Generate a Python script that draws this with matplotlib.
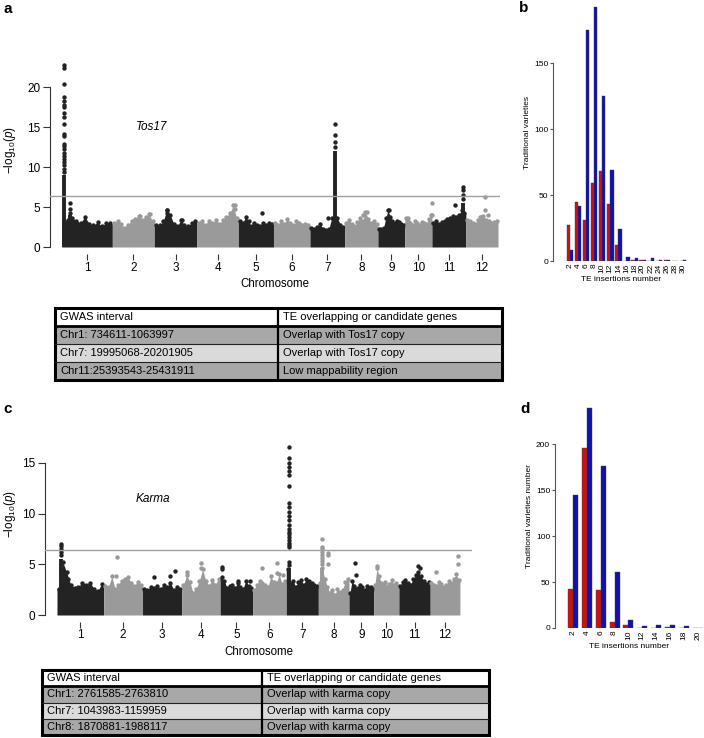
import numpy as np
import matplotlib.pyplot as plt
from matplotlib.patches import Rectangle

plt.rcParams['font.family'] = ['Liberation Sans', 'DejaVu Sans']
plt.rcParams['mathtext.fontset'] = 'custom'
plt.rcParams['mathtext.rm'] = 'Liberation Sans'
plt.rcParams['mathtext.it'] = 'Liberation Sans:italic'

# rice chromosome lengths (Mb)
chrom_len = [43.3, 35.9, 36.4, 35.5, 30.0, 31.2, 29.7, 28.4, 23.0, 23.2, 29.0, 27.5]
chrom_names = [str(i) for i in range(1, 13)]

# Tos17 GWAS: upper edge of the dense SNP cloud along each chromosome
tos_env = [
    [3.2, 3.4, 3.6, 3.3, 3.0, 3.8, 2.9, 2.7, 3.1, 2.6, 3.0, 3.0],
    [3.0, 3.2, 2.9, 2.4, 2.8, 3.3, 3.5, 3.9, 3.4, 3.8, 4.1, 3.2],
    [2.8, 2.7, 3.2, 4.6, 4.0, 2.9, 2.6, 3.4, 2.7, 2.6, 3.0, 3.2],
    [3.0, 3.3, 2.8, 3.3, 3.0, 3.4, 2.9, 3.4, 3.8, 4.2, 5.2, 3.6],
    [3.3, 3.0, 3.8, 3.2, 2.6, 3.0, 2.8, 2.6, 3.0, 2.8, 3.0, 2.9],
    [3.0, 2.8, 3.3, 2.9, 3.5, 3.0, 2.7, 3.2, 3.0, 2.8, 2.9, 2.7],
    [2.4, 2.3, 2.5, 2.9, 2.3, 2.1, 2.2, 3.6, 3.2, 3.6, 2.8, 2.5],
    [3.0, 3.4, 2.9, 2.6, 3.1, 3.6, 3.3, 4.4, 3.5, 3.0, 3.2, 2.9],
    [2.3, 2.3, 2.4, 3.6, 4.6, 3.8, 3.3, 3.0, 3.2, 3.1, 2.9, 2.8],
    [3.6, 3.2, 3.0, 2.8, 3.2, 3.0, 2.7, 3.1, 3.0, 2.9, 3.5, 4.0],
    [3.0, 3.3, 2.9, 3.1, 3.3, 3.5, 3.6, 3.9, 3.7, 4.0, 4.6, 4.2],
    [3.4, 3.2, 3.0, 2.9, 3.4, 3.8, 3.9, 3.4, 3.2, 3.0, 3.1, 3.3],
]
# (chromosome index, position Mb, -log10 p)
tos_points = [
    (1, 23.7, 3.9), (1, 32.2, 4.1), (2, 10.8, 4.6), (2, 11.2, 4.2), (2, 23.6, 3.4),
    (3, 32.8, 5.2), (3, 32.5, 4.8), (4, 20.5, 4.3), (6, 15.1, 3.6),
    (7, 19.2, 4.4), (7, 15.5, 4.0), (8, 9.8, 4.6), (9, 2.7, 3.6), (9, 23.1, 5.5),
    (9, 23.0, 4.0), (10, 19.9, 5.3), (11, 16.5, 6.3), (11, 16.5, 4.6),
    (11, 12.2, 3.8), (11, 19.0, 4.0),
]
# (chromosome index, position Mb, top of solid column, isolated SNPs above)
tos_peaks = [
    (0, 2.2, 9.0, [22.8, 22.4, 20.4, 18.8, 18.2, 17.8, 17.5, 16.8, 16.2, 15.4, 14.1,
                   13.9, 12.9, 12.6, 12.3, 11.8, 11.4, 11.0, 10.6, 10.2, 9.8, 9.4]),
    (0, 7.1, 4.0, [5.5, 4.7, 4.3]),
    (6, 21.4, 12.0, [15.4, 14.0, 13.1, 12.5]),
    (10, 26.5, 5.5, [7.5, 7.1, 6.5, 6.0]),
]

# Karma GWAS
karma_env = [
    [2.6, 5.2, 4.2, 3.0, 2.7, 2.8, 3.2, 3.0, 3.2, 2.6, 2.4, 3.1],
    [2.9, 2.8, 3.8, 2.6, 3.0, 3.4, 3.6, 3.7, 3.2, 2.9, 3.3, 3.0],
    [2.6, 2.5, 2.8, 2.7, 2.9, 2.6, 3.0, 2.8, 3.2, 2.5, 2.8, 2.6],
    [3.0, 3.9, 3.3, 2.2, 2.6, 3.4, 4.5, 3.4, 2.9, 3.5, 3.0, 3.6],
    [3.7, 3.4, 2.7, 2.9, 3.0, 2.7, 3.2, 2.8, 2.6, 3.4, 2.9, 2.7],
    [2.5, 3.0, 3.4, 3.2, 3.0, 2.8, 3.8, 3.3, 3.2, 4.0, 3.1, 3.4],
    [4.5, 3.2, 3.4, 2.8, 3.3, 3.5, 3.0, 3.6, 3.4, 3.2, 3.0, 2.9],
    [3.2, 4.6, 3.6, 2.8, 2.2, 2.5, 2.0, 2.6, 2.3, 2.5, 3.3, 3.6],
    [2.2, 3.4, 2.9, 2.6, 2.7, 3.0, 2.8, 2.5, 2.9, 2.7, 2.8, 2.6],
    [3.0, 4.6, 3.8, 3.2, 3.0, 3.3, 2.8, 3.1, 3.5, 3.0, 3.2, 2.9],
    [2.9, 3.3, 3.5, 3.2, 3.0, 3.6, 3.9, 4.2, 3.8, 3.4, 3.1, 3.3],
    [3.2, 3.0, 2.9, 3.3, 3.1, 2.8, 3.0, 3.4, 3.2, 3.6, 4.0, 3.5],
]
karma_points = [
    (0, 10.0, 3.6), (1, 12.0, 5.7), (1, 11.4, 3.8), (2, 10.6, 3.7), (2, 25.4, 3.8),
    (2, 30.4, 4.3), (3, 17.4, 5.1), (3, 17.4, 4.6), (3, 4.5, 4.2), (4, 2.0, 4.7),
    (4, 2.0, 4.5), (4, 16.8, 3.4), (4, 27.6, 3.4), (5, 8.4, 4.6), (5, 22.3, 5.1),
    (5, 22.3, 4.1), (5, 28.2, 3.9), (7, 8.8, 6.1), (7, 9.2, 5.9), (7, 8.6, 5.0),
    (8, 6.0, 5.1), (8, 6.5, 3.9), (9, 3.0, 4.8), (10, 18.0, 4.8), (10, 20.0, 4.6),
    (11, 26.0, 5.8), (11, 25.5, 5.0), (11, 5.0, 4.2),
]
karma_peaks = [
    (0, 3.5, 5.5, [7.0, 6.8, 6.5, 6.2, 5.9]),
    (6, 2.5, 4.6, [16.6, 15.5, 15.0, 14.6, 14.2, 13.8, 12.7, 11.0, 10.7, 10.2, 9.8,
                   9.4, 8.9, 8.5, 8.2, 8.0, 7.7, 7.4, 7.1, 6.9, 6.7, 5.2, 4.9]),
    (7, 3.0, 4.6, [7.45, 6.7, 6.5, 6.2, 5.9, 5.6, 5.3, 5.0]),
]

# TE insertion histograms
te_b = [str(v) for v in range(2, 31, 2)]
red_b = [27, 45, 31, 59, 68, 43, 12, 0, 1, 1, 0, 0, 1, 0, 0]
blue_b = [8, 42, 175, 193, 125, 69, 24, 3, 2, 1, 2, 1, 1, 0, 1]
te_d = [str(v) for v in range(2, 21, 2)]
red_d = [43, 196, 41, 6, 3, 0, 0, 1, 0, 0]
blue_d = [145, 240, 176, 61, 9, 2, 3, 3, 2, 0]

tab_a_c1 = ["GWAS interval", "Chr1: 734611-1063997", "Chr7: 19995068-20201905",
            "Chr11:25393543-25431911"]
tab_a_c2 = ["TE overlapping or candidate genes", "Overlap with Tos17 copy",
            "Overlap with Tos17 copy", "Low mappability region"]
tab_c_c1 = ["GWAS interval", "Chr1: 2761585-2763810", "Chr7: 1043983-1159959",
            "Chr8: 1870881-1988117"]
tab_c_c2 = ["TE overlapping or candidate genes", "Overlap with karma copy",
            "Overlap with karma copy", "Overlap with karma copy"]

W, H = 704, 738
fig = plt.figure(figsize=(W / 100, H / 100), dpi=100)
DARK, LIGHT = '#232323', '#9a9a9a'


def px_axes(l, t, r, b):
    return fig.add_axes([l / W, 1 - b / H, (r - l) / W, (b - t) / H])


def manhattan(ax, env, points, peaks, xlim, ylim, ymax_tick):
    starts = np.concatenate([[0], np.cumsum(chrom_len)[:-1]])
    cols = [DARK if i % 2 == 0 else LIGHT for i in range(12)]
    for i, L in enumerate(chrom_len):
        vals = np.array(env[i])
        xs = starts[i] + L * (np.arange(len(vals)) + 0.5) / len(vals)
        xx = np.r_[starts[i], xs, starts[i] + L]
        yy = np.r_[vals[0], vals, vals[-1]]
        ax.fill_between(xx, 0, yy, color=cols[i], lw=0)
        ax.scatter(xs, vals, s=10, color=cols[i], lw=0)
    for ch, pos, v in points:
        ax.scatter(starts[ch] + pos, v, s=10, color=cols[ch], lw=0, zorder=3)
    for ch, pos, top, dots in peaks:
        x = starts[ch] + pos
        ax.vlines(x, 0, top, color=cols[ch], lw=2.8, zorder=3)
        ax.scatter([x] * len(dots), dots, s=10, color=cols[ch], lw=0, zorder=3)
    ax.axhline(6.4, color='#a0a0a0', lw=1, zorder=4)
    ax.set_xlim(*xlim)
    ax.set_ylim(*ylim)
    ax.set_xticks(starts + np.array(chrom_len) / 2, chrom_names)
    ax.set_yticks(range(0, ymax_tick + 1, 5))
    for s in ['top', 'right', 'bottom']:
        ax.spines[s].set_visible(False)
    ax.spines['left'].set_bounds(0, ymax_tick)
    ax.spines['left'].set_color('#333333')
    ax.tick_params(axis='y', length=5, pad=2, labelsize=8.5, color='#333333')
    ax.tick_params(axis='x', length=4, pad=1.5, labelsize=8.5, color='#333333')
    ax.set_xlabel('Chromosome', fontsize=8.3, labelpad=3)


def bars(ax, labels, red, blue, w, ytop, ymax_tick, ylab):
    x = np.arange(len(labels))
    ax.bar(x - w / 2, red, w, color='#cc1111', edgecolor='#444444', lw=0.3)
    ax.bar(x + w / 2, blue, w, color='#1111b0', edgecolor='#444444', lw=0.3)
    ax.set_xticks(x, labels, rotation=90, fontsize=6)
    ax.set_ylim(0, ytop)
    ax.set_yticks(range(0, ymax_tick + 1, 50))
    ax.tick_params(axis='x', length=0, pad=2)
    ax.tick_params(axis='y', length=2.5, pad=1, labelsize=6, color='#555555')
    for s in ['top', 'right', 'bottom']:
        ax.spines[s].set_visible(False)
    ax.spines['left'].set_bounds(0, ymax_tick)
    ax.spines['left'].set_color('#555555')
    ax.set_xlabel('TE insertions number', fontsize=6, labelpad=2)
    ax.set_ylabel(ylab, fontsize=6, labelpad=2)


def table(l, t, r, b, split, c1, c2):
    ax = px_axes(l, t, r, b)
    w, h = r - l, b - t
    ax.set_xlim(0, w)
    ax.set_ylim(h, 0)
    ax.axis('off')
    rh = h / len(c1)
    fills = ['white', '#a8a8a8', '#dadada', '#a8a8a8']
    for i in range(len(c1)):
        ax.add_patch(Rectangle((0, i * rh), w, rh, color=fills[i], lw=0))
        ax.text(5, (i + 0.5) * rh, c1[i], va='center', ha='left', fontsize=8)
        ax.text(split - l + 5, (i + 0.5) * rh, c2[i], va='center', ha='left', fontsize=8)
        if i > 1:
            ax.plot([0, w], [i * rh, i * rh], color='#222222', lw=0.8)
    ax.plot([0, w], [rh, rh], color='black', lw=2)
    ax.plot([split - l, split - l], [0, h], color='black', lw=1.6)
    ax.add_patch(Rectangle((0, 0), w, h, fill=False, ec='black', lw=2.2, clip_on=False))


# panel a  (x: 61.7 px at 0 Mb, 1.169 px per Mb)
ax_a = px_axes(50, 57.4, 500, 254.2)
manhattan(ax_a, tos_env, tos_points, tos_peaks, (-10.0, 374.8), (-0.9, 23.7), 20)
ax_a.text((152 - 61.7) / 1.169, 15, 'Tos17', style='italic', fontsize=8.5,
          ha='center', va='center')
fig.text(10 / W, 1 - 150 / H, r'$-$log$_{10}$($\it{p}$)', rotation=90, fontsize=8.5,
         ha='center', va='center')

# panel c  (x: 57 px at 0 Mb, 1.08 px per Mb)
ax_c = px_axes(45, 440, 472, 621.7)
manhattan(ax_c, karma_env, karma_points, karma_peaks, (-11.1, 384.3), (-0.66, 17.26), 15)
ax_c.text((153 - 57) / 1.08, 11.4, 'Karma', style='italic', fontsize=8.5,
          ha='center', va='center')
fig.text(10 / W, 1 - 514 / H, r'$-$log$_{10}$($\it{p}$)', rotation=90, fontsize=8.5,
         ha='center', va='center')

# panel b / d
ax_b = px_axes(553, 4, 689, 261)
ax_b.set_xlim(-2.1, 14.75)
bars(ax_b, te_b, red_b, blue_b, 0.4, 195, 150, 'Traditional varieties')
ax_d = px_axes(555, 403, 704, 628)
ax_d.set_xlim(-1.3, 9.45)
bars(ax_d, te_d, red_d, blue_d, 0.36, 245, 200, 'Traditional varieties number')

# tables
table(55, 308, 502, 380, 278, tab_a_c1, tab_a_c2)
table(42, 670, 489, 735, 262, tab_c_c1, tab_c_c2)

for lab, x, y in [('a', 8, 9), ('b', 524, 8), ('c', 8, 409), ('d', 525, 409)]:
    fig.text(x / W, 1 - y / H, lab, fontsize=11, fontweight='bold', ha='center', va='center')

fig.savefig('out.png', dpi=100)
